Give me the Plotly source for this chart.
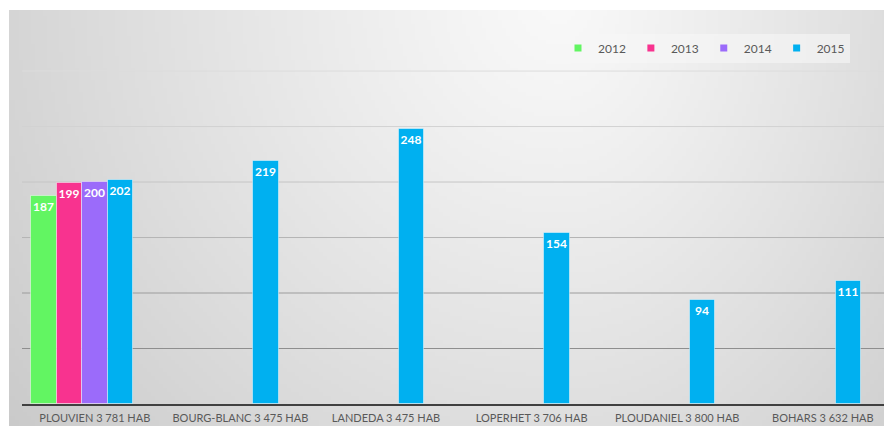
import base64, struct, zlib
import numpy as np
import plotly.graph_objects as go

categories = ["PLOUVIEN 3 781 HAB", "BOURG-BLANC 3 475 HAB", "LANDEDA 3 475 HAB",
              "LOPERHET 3 706 HAB", "PLOUDANIEL 3 800 HAB", "BOHARS 3 632 HAB"]
series_names = ["2012", "2013", "2014", "2015"]
v2012 = [187, None, None, None, None, None]
v2013 = [199, None, None, None, None, None]
v2014 = [200, None, None, None, None, None]
v2015 = [202, 219, 248, 154, 94, 111]
series_values = [v2012, v2013, v2014, v2015]
colors = ["#62F562", "#F8338F", "#9B6BFA", "#00B0F0"]
y_ticks = [50, 100, 150, 200, 250, 300]
grid_colors = ["#8E8E8E", "#9C9C9C", "#B4B4B4", "#C6C6C6", "#D2D2D2", "#DCDCDC"]

# Page has an 8px body margin: figure is sized/positioned to compensate.
OFF = 8
FW, FH = 892 - OFF, 426 - OFF

# ---- background gradient image (covers page x 9..892, y 10..426) ----
def make_png(arr):
    h, w, _ = arr.shape
    raw = b"".join(b"\x00" + arr[i].tobytes() for i in range(h))
    def chunk(t, d):
        c = struct.pack(">I", len(d)) + t + d
        return c + struct.pack(">I", zlib.crc32(t + d) & 0xffffffff)
    return (b"\x89PNG\r\n\x1a\n" + chunk(b"IHDR", struct.pack(">IIBBBBB", w, h, 8, 2, 0, 0, 0))
            + chunk(b"IDAT", zlib.compress(raw, 9)) + chunk(b"IEND", b""))

W, H = 221, 104
px, py = np.meshgrid(np.linspace(9, 892, W), np.linspace(10, 426, H))
cx, cy = 560.0, 0.0
rx = np.where(px < cx, 560.0, 420.0)
d = np.sqrt(((px - cx) / rx) ** 2 + ((py - cy) / 560.0) ** 2)
g = np.clip(249 - 36 * d ** 1.15, 200, 249).astype(np.uint8)
img = np.stack([g, g, g], axis=-1)
src = "data:image/png;base64," + base64.b64encode(make_png(img)).decode()

fig = go.Figure()
bw = 0.175
for k, (name, vals, col) in enumerate(zip(series_names, series_values, colors)):
    fig.add_trace(go.Bar(
        x=categories, y=vals, name=name, showlegend=False,
        marker=dict(color=col, line=dict(color="rgba(255,255,255,0.45)", width=1)),
        width=bw, offset=-2.5 * bw + k * bw,
        text=[str(v) if v is not None else "" for v in vals],
        textposition="inside", insidetextanchor="end", constraintext="none",
        textangle=0,
        textfont=dict(color="white", size=12, family="Lato", weight="bold"),
    ))
for name, col in zip(series_names, colors):
    fig.add_trace(go.Scatter(x=[None], y=[None], mode="markers", name=name,
                             marker=dict(symbol="square", size=7, color=col)))

# plot area in page pixels: left 22, top 10, right 892, bottom 404
pl, pt = 22 - OFF, 10 - OFF
pb = FH - (404 - OFF)
pr = 0
pw, ph = FW - pl - pr, FH - pt - pb
fig.add_layout_image(dict(
    source=src, xref="paper", yref="paper",
    x=(9 - OFF - pl) / pw, y=1, sizex=(892 - 9) / pw, sizey=(426 - 10) / ph,
    xanchor="left", yanchor="top", sizing="stretch", layer="below"))

for yv, gc in zip(y_ticks, grid_colors):
    fig.add_shape(type="line", xref="paper", yref="y", x0=0, x1=1, y0=yv, y1=yv,
                  line=dict(color=gc, width=1), layer="below")

fig.update_layout(
    width=FW, height=FH,
    margin=dict(l=pl, r=pr, t=pt, b=pb, autoexpand=False),
    paper_bgcolor="white", plot_bgcolor="rgba(0,0,0,0)",
    barmode="overlay", bargap=0,
    showlegend=True,
    legend=dict(orientation="h", x=(850 - OFF - pl) / pw, xanchor="right",
                y=(404 - 48) / ph, yanchor="middle",
                bgcolor="rgba(246,246,246,0.6)", font=dict(family="Lato", size=12, color="#595959"),
                itemwidth=30, traceorder="normal", borderwidth=0),
    font=dict(family="Lato"),
)
fig.update_xaxes(type="category", range=[-0.5, 5.475], showgrid=False, automargin=False,
                 showline=True, linecolor="#404040", linewidth=2,
                 ticks="", ticklabelstandoff=3,
                 tickfont=dict(family="Lato", size=11, color="#595959"))
fig.update_yaxes(range=[0, 355], tickvals=y_ticks, showticklabels=False, automargin=False,
                 showgrid=False, zeroline=False, showline=False)
fig.write_html("out.html")
